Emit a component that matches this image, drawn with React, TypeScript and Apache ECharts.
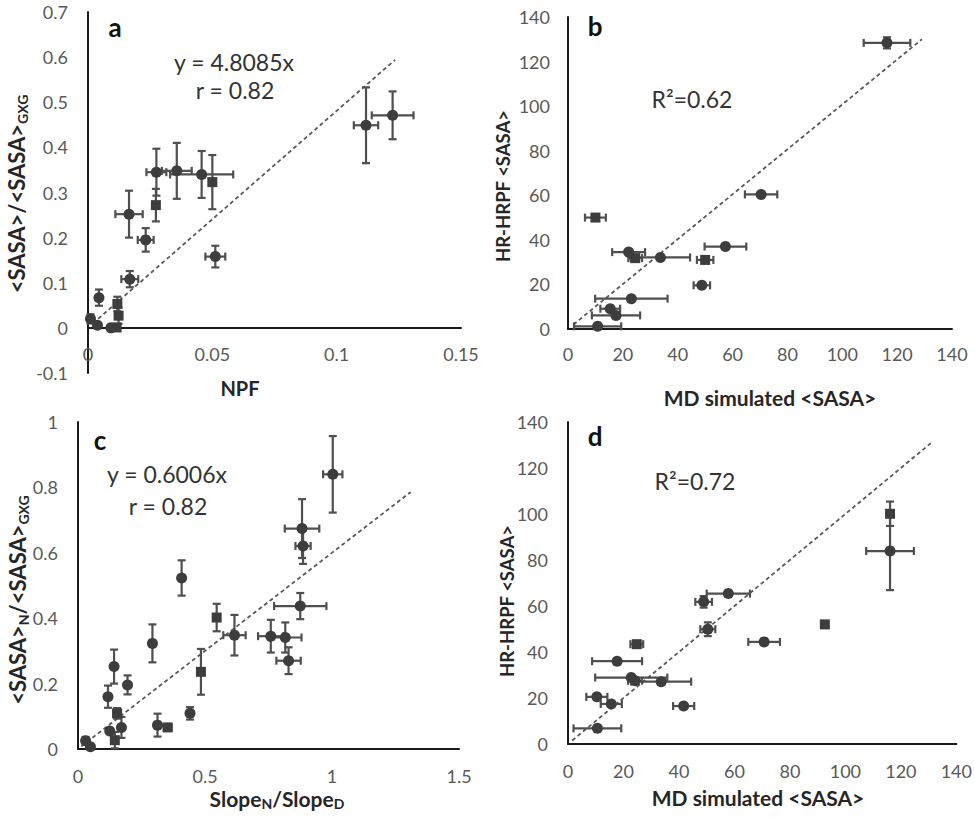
import React, { useEffect, useRef } from 'react';
import * as echarts from 'echarts';

// ---------- Panel a: NPF vs <SASA>/<SASA>GXG ----------
const aX = [0.1118, 0.1225, 0.0275, 0.0357, 0.0457, 0.05, 0.0273, 0.0165, 0.0232, 0.0512, 0.0168, 0.0044, 0.0118, 0.0123, 0.001, 0.0038, 0.0092, 0.0115];
const aY = [0.449, 0.471, 0.345, 0.348, 0.34, 0.323, 0.272, 0.252, 0.195, 0.158, 0.108, 0.067, 0.053, 0.027, 0.02, 0.006, 0.0, 0.001];
const aXErr = [0.0049, 0.0084, 0.004, 0.006, 0.0127, 0, 0, 0.0055, 0.0032, 0.004, 0.0034, 0, 0, 0, 0, 0, 0, 0];
const aYErr = [0.084, 0.053, 0.052, 0.062, 0.052, 0.06, 0.036, 0.052, 0.026, 0.024, 0.018, 0.018, 0.016, 0.018, 0.01, 0, 0, 0];
const aShape = ['c', 'c', 'c', 'c', 'c', 'r', 'r', 'c', 'c', 'c', 'c', 'c', 'r', 'r', 'c', 'c', 'c', 'r'];
const aTrend = [[0.002, 0.01], [0.1235, 0.594]];

// ---------- Panel b: MD simulated vs HR-HRPF ----------
const bX = [116.3, 70.4, 10, 57.4, 22.1, 24.5, 33.7, 50, 48.8, 23.1, 15.4, 17.5, 10.8];
const bY = [128.4, 60.4, 50, 37, 34.5, 31.8, 32.1, 31, 19.6, 13.6, 9.1, 6.1, 1.2];
const bXErr = [8.5, 5.9, 3.8, 7.6, 6, 2.5, 10.8, 3, 3, 13.2, 3.6, 8.8, 8.6];
const bYErr = [2.5, 0, 0, 0, 0, 0, 0, 0, 0, 0, 0, 0, 0];
const bShape = ['c', 'c', 'r', 'c', 'c', 'r', 'c', 'r', 'c', 'c', 'c', 'c', 'c'];
const bTrend = [[2, 2], [129, 130]];

// ---------- Panel c: SlopeN/SlopeD vs <SASA>N/<SASA>GXG ----------
const cX = [1.003, 0.882, 0.886, 0.408, 0.875, 0.546, 0.616, 0.759, 0.816, 0.829, 0.293, 0.484, 0.142, 0.195, 0.118, 0.154, 0.441, 0.313, 0.353, 0.171, 0.125, 0.145, 0.03, 0.049];
const cY = [0.84, 0.674, 0.621, 0.523, 0.437, 0.402, 0.348, 0.345, 0.341, 0.27, 0.323, 0.236, 0.252, 0.196, 0.16, 0.109, 0.109, 0.073, 0.066, 0.066, 0.055, 0.027, 0.025, 0.007];
const cXErr = [0.038, 0.068, 0.03, 0, 0.103, 0, 0.044, 0.05, 0.064, 0.048, 0, 0, 0, 0, 0, 0.015, 0, 0, 0.015, 0, 0, 0, 0, 0];
const cYErr = [0.117, 0.09, 0.055, 0.054, 0.04, 0.042, 0.062, 0.05, 0.046, 0.041, 0.058, 0.07, 0.052, 0.029, 0.034, 0.016, 0.019, 0.035, 0, 0.032, 0, 0.025, 0.012, 0];
const cShape = ['c', 'c', 'c', 'c', 'c', 'r', 'c', 'c', 'c', 'c', 'c', 'r', 'c', 'c', 'c', 'r', 'c', 'c', 'r', 'c', 'c', 'r', 'c', 'c'];
const cTrend = [[0.013, 0.008], [1.31, 0.786]];

// ---------- Panel d: MD simulated vs HR-HRPF ----------
const dX = [116.1, 116.1, 57.8, 48.9, 50.4, 92.6, 70.7, 24.8, 17.7, 22.8, 24.2, 33.6, 10.4, 15.6, 41.7, 10.6];
const dY = [100.1, 83.9, 65.4, 61.8, 49.9, 52, 44.4, 43.4, 36, 28.9, 27.5, 27.1, 20.5, 17.4, 16.5, 6.8];
const dXErr = [0, 8.6, 7.8, 3, 2.7, 0, 5.7, 2.3, 9, 13, 2.5, 10.8, 3.8, 3.8, 3.8, 8.6];
const dYErr = [5.3, 17, 0, 2.5, 3, 0, 0, 0, 0, 0, 0, 0, 0, 0, 0, 0];
const dShape = ['r', 'c', 'c', 'c', 'c', 'r', 'c', 'r', 'c', 'c', 'c', 'c', 'c', 'c', 'c', 'c'];
const dTrend = [[1.5, 1.5], [131, 131]];

const FONT = 'Lato, "Open Sans", sans-serif';
const MARK = '#3d3d3d';
const BAR = '#4f4f4f';
const TITLE = '#262626';

function errSeries(idx: number, xs: number[], ys: number[], exs: number[], eys: number[]) {
  return {
    type: 'custom',
    xAxisIndex: idx,
    yAxisIndex: idx,
    coordinateSystem: 'cartesian2d',
    silent: true,
    clip: false,
    z: 2,
    encode: { x: 0, y: 1 },
    data: xs.map((x, i) => [x, ys[i], exs[i], eys[i]]),
    renderItem: (params: any, api: any) => {
      const x = api.value(0);
      const y = api.value(1);
      const ex = api.value(2);
      const ey = api.value(3);
      const style = { stroke: BAR, lineWidth: 2.2 };
      const cap = 4;
      const ch: any[] = [];
      if (ex > 0) {
        const p1 = api.coord([x - ex, y]);
        const p2 = api.coord([x + ex, y]);
        ch.push({ type: 'line', shape: { x1: p1[0], y1: p1[1], x2: p2[0], y2: p2[1] }, style });
        ch.push({ type: 'line', shape: { x1: p1[0], y1: p1[1] - cap, x2: p1[0], y2: p1[1] + cap }, style });
        ch.push({ type: 'line', shape: { x1: p2[0], y1: p2[1] - cap, x2: p2[0], y2: p2[1] + cap }, style });
      }
      if (ey > 0) {
        const p1 = api.coord([x, y - ey]);
        const p2 = api.coord([x, y + ey]);
        ch.push({ type: 'line', shape: { x1: p1[0], y1: p1[1], x2: p2[0], y2: p2[1] }, style });
        ch.push({ type: 'line', shape: { x1: p1[0] - cap, y1: p1[1], x2: p1[0] + cap, y2: p1[1] }, style });
        ch.push({ type: 'line', shape: { x1: p2[0] - cap, y1: p2[1], x2: p2[0] + cap, y2: p2[1] }, style });
      }
      return { type: 'group', children: ch };
    },
  };
}

function scatterSeries(idx: number, xs: number[], ys: number[], shapes: string[]) {
  return {
    type: 'scatter',
    xAxisIndex: idx,
    yAxisIndex: idx,
    z: 3,
    silent: true,
    itemStyle: { color: MARK, opacity: 1 },
    data: xs.map((x, i) => ({
      value: [x, ys[i]],
      symbol: shapes[i] === 'r' ? 'rect' : 'circle',
      symbolSize: shapes[i] === 'r' ? 10 : 11,
    })),
  };
}

function trendSeries(idx: number, pts: number[][]) {
  return {
    type: 'line',
    xAxisIndex: idx,
    yAxisIndex: idx,
    z: 1,
    silent: true,
    symbol: 'none',
    lineStyle: { color: '#5a5a5a', width: 1.8, type: [4, 3] },
    data: pts,
  };
}

function axis(grid: number, min: number, max: number, interval: number, margin: number, offset = 0) {
  return {
    type: 'value',
    gridIndex: grid,
    min,
    max,
    interval,
    offset,
    axisLine: { show: true, onZero: false, lineStyle: { color: '#1a1a1a', width: 2 } },
    axisTick: { show: false },
    splitLine: { show: false },
    axisLabel: { color: '#595959', fontSize: 18, fontFamily: FONT, margin },
  };
}

function txt(x: number, y: number, text: string, size: number, bold: boolean, color = TITLE, rotate = false) {
  return {
    type: 'text',
    x,
    y,
    rotation: rotate ? Math.PI / 2 : 0,
    silent: true,
    style: {
      text,
      fontSize: size,
      fontWeight: bold ? 'bold' : 'normal',
      fontFamily: FONT,
      fill: color,
      align: 'center',
      verticalAlign: 'middle',
    },
  };
}

function richTxt(x: number, y: number, text: string, size: number, sub: number, rotate: boolean) {
  return {
    type: 'text',
    x,
    y,
    rotation: rotate ? Math.PI / 2 : 0,
    silent: true,
    style: {
      text,
      fontFamily: FONT,
      fill: TITLE,
      align: 'center',
      verticalAlign: 'middle',
      rich: {
        m: { fontSize: size, fontWeight: 'bold', fontFamily: FONT, fill: TITLE, lineHeight: size + 4, verticalAlign: 'middle' },
        s: { fontSize: sub, fontWeight: 'bold', fontFamily: FONT, fill: TITLE, lineHeight: sub, verticalAlign: 'bottom' },
      },
    },
  };
}

// panel a: grid top 12, height 361, y range -0.1..0.7 -> zero line sits 361*0.1/0.8 above the bottom
const A_TOP = 12;
const A_H = 361;
const A_ZERO_OFFSET = -(A_H * 0.1) / 0.8;

export default function App() {
  const ref = useRef<HTMLDivElement>(null);
  useEffect(() => {
    if (!ref.current) return;
    const chart = echarts.init(ref.current, undefined, { renderer: 'svg' });
    const option: any = {
      animation: false,
      backgroundColor: '#ffffff',
      grid: [
        { left: 88, top: A_TOP, width: 373, height: A_H },
        { left: 568, top: 17, width: 384, height: 312 },
        { left: 78, top: 422, width: 381, height: 327 },
        { left: 568, top: 422, width: 390, height: 322 },
      ],
      xAxis: [
        axis(0, 0, 0.15, 0.05, 17, A_ZERO_OFFSET),
        axis(1, 0, 140, 20, 16),
        axis(2, 0, 1.5, 0.5, 18),
        axis(3, 0, 140, 20, 18),
      ],
      yAxis: [
        axis(0, -0.1, 0.7, 0.1, 20),
        axis(1, 0, 140, 20, 18),
        axis(2, 0, 1, 0.2, 20),
        axis(3, 0, 140, 20, 20),
      ],
      series: [
        trendSeries(0, aTrend),
        errSeries(0, aX, aY, aXErr, aYErr),
        scatterSeries(0, aX, aY, aShape),
        trendSeries(1, bTrend),
        errSeries(1, bX, bY, bXErr, bYErr),
        scatterSeries(1, bX, bY, bShape),
        trendSeries(2, cTrend),
        errSeries(2, cX, cY, cXErr, cYErr),
        scatterSeries(2, cX, cY, cShape),
        trendSeries(3, dTrend),
        errSeries(3, dX, dY, dXErr, dYErr),
        scatterSeries(3, dX, dY, dShape),
      ],
      graphic: [
        txt(115, 27, 'a', 26, true, '#111'),
        txt(234, 62, 'y = 4.8085x', 23, false, '#333'),
        txt(235, 90, 'r = 0.82', 23, false, '#333'),
        txt(595, 26, 'b', 26, true, '#111'),
        txt(692, 99, 'R²=0.62', 23, false, '#333'),
        txt(100, 440, 'c', 26, true, '#111'),
        txt(167, 474, 'y = 0.6006x', 23, false, '#333'),
        txt(168, 506, 'r = 0.82', 23, false, '#333'),
        txt(595, 436, 'd', 26, true, '#111'),
        txt(695, 481, 'R²=0.72', 23, false, '#333'),
        txt(240, 388, 'NPF', 20, true),
        txt(770, 397, 'MD simulated <SASA>', 21, true),
        txt(758, 797, 'MD simulated <SASA>', 21, true),
        txt(503, 186, 'HR-HRPF <SASA>', 18.5, true, TITLE, true),
        txt(507, 601, 'HR-HRPF <SASA>', 18.5, true, TITLE, true),
        richTxt(16, 194, '{m|<SASA>/<SASA>}{s|GXG}', 22, 14, true),
        richTxt(17, 600, '{m|<SASA>}{s|N}{m|/<SASA>}{s|GXG}', 22, 14, true),
        richTxt(277, 798, '{m|Slope}{s|N}{m|/Slope}{s|D}', 21, 14, false),
      ],
    };
    chart.setOption(option);
    return () => chart.dispose();
  }, []);
  return <div ref={ref} style={{ position: 'absolute', left: 0, top: 0, width: 975, height: 817, background: '#fff' }} />;
}
